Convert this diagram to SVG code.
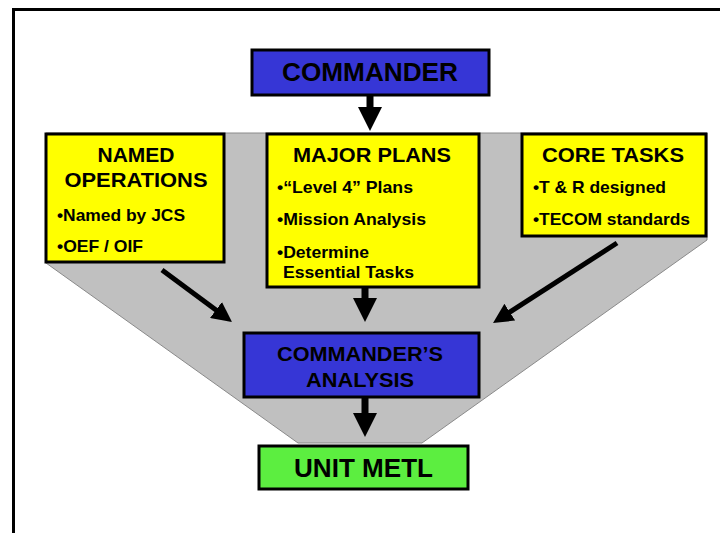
<svg xmlns="http://www.w3.org/2000/svg" width="720" height="533" viewBox="0 0 720 533">
<style>
.box{stroke:#000;stroke-width:3}
.blue{fill:#3636d6}
.yel{fill:#ffff00}
.grn{fill:#5cee40}
text{font-family:"Liberation Sans",Arial,sans-serif;font-weight:bold;fill:#000}
.t{font-size:21px;text-anchor:middle}
.b{font-size:17px}
.conn{stroke:#000;fill:none}
</style>
<defs>
<marker id="hd" viewBox="0 0 20 20" refX="8" refY="10" markerWidth="20" markerHeight="20" markerUnits="userSpaceOnUse" orient="auto">
<path d="M0,0 L20,10 L0,20 Z" fill="#000"/>
</marker>
<marker id="hv" viewBox="0 0 24 24" refX="6" refY="12" markerWidth="24" markerHeight="24" markerUnits="userSpaceOnUse" orient="auto">
<path d="M0,0 L24,12 L0,24 Z" fill="#000"/>
</marker>
</defs>
<rect x="0" y="0" width="720" height="533" fill="#fff"/>
<rect x="13.5" y="9.5" width="720" height="540" fill="#fff" stroke="#000" stroke-width="3"/>
<polygon id="funnel" points="46,133 707,133 707,240 422,443 298,443 46,263" fill="#c0c0c0" stroke="#8a8a8a" stroke-width="1"/>

<g id="connectors">
<line class="conn" x1="370" y1="96" x2="370" y2="113" stroke-width="7" marker-end="url(#hv)"/>
<line class="conn" x1="365" y1="288" x2="365" y2="304" stroke-width="7" marker-end="url(#hv)"/>
<line class="conn" x1="365" y1="397" x2="365" y2="419" stroke-width="7" marker-end="url(#hv)"/>
<line class="conn" x1="162" y1="270" x2="222.4" y2="314.8" stroke-width="5" marker-end="url(#hd)"/>
<line class="conn" x1="617" y1="243" x2="503.1" y2="316.5" stroke-width="5" marker-end="url(#hd)"/>
</g>

<g id="commander">
<rect class="box blue" x="252" y="50" width="237" height="45"/>
<text class="t" x="370" y="81" font-size="25" textLength="176" lengthAdjust="spacingAndGlyphs" style="font-size:25px">COMMANDER</text>
</g>

<g id="named-operations">
<rect class="box yel" x="46" y="134" width="178" height="128"/>
<text class="t" x="136" y="162">NAMED</text>
<text class="t" x="136" y="187" textLength="143" lengthAdjust="spacingAndGlyphs">OPERATIONS</text>
<text class="b" x="57" y="221" textLength="128" lengthAdjust="spacingAndGlyphs">•Named by JCS</text>
<text class="b" x="57" y="252" textLength="86" lengthAdjust="spacingAndGlyphs">•OEF / OIF</text>
</g>

<g id="major-plans">
<rect class="box yel" x="267" y="134" width="212" height="153"/>
<text class="t" x="372" y="162" textLength="158" lengthAdjust="spacingAndGlyphs">MAJOR PLANS</text>
<text class="b" x="277" y="193" textLength="136" lengthAdjust="spacingAndGlyphs">•“Level 4” Plans</text>
<text class="b" x="277" y="225" textLength="149" lengthAdjust="spacingAndGlyphs">•Mission Analysis</text>
<text class="b" x="277" y="258" textLength="92" lengthAdjust="spacingAndGlyphs">•Determine</text>
<text class="b" x="283" y="278" textLength="131" lengthAdjust="spacingAndGlyphs">Essential Tasks</text>
</g>

<g id="core-tasks">
<rect class="box yel" x="522" y="134" width="184" height="102"/>
<text class="t" x="613" y="162" textLength="142" lengthAdjust="spacingAndGlyphs">CORE TASKS</text>
<text class="b" x="533" y="193" textLength="133" lengthAdjust="spacingAndGlyphs">•T &amp; R designed</text>
<text class="b" x="533" y="225" textLength="157" lengthAdjust="spacingAndGlyphs">•TECOM standards</text>
</g>

<g id="commanders-analysis">
<rect class="box blue" x="244" y="333" width="235" height="64"/>
<text class="t" x="360" y="361" style="font-size:20px" textLength="166" lengthAdjust="spacingAndGlyphs">COMMANDER’S</text>
<text class="t" x="360" y="387" style="font-size:20px" textLength="108" lengthAdjust="spacingAndGlyphs">ANALYSIS</text>
</g>

<g id="unit-metl">
<rect class="box grn" x="259" y="446" width="209" height="43"/>
<text class="t" x="363.5" y="477" style="font-size:25px" textLength="139" lengthAdjust="spacingAndGlyphs">UNIT METL</text>
</g>
</svg>
